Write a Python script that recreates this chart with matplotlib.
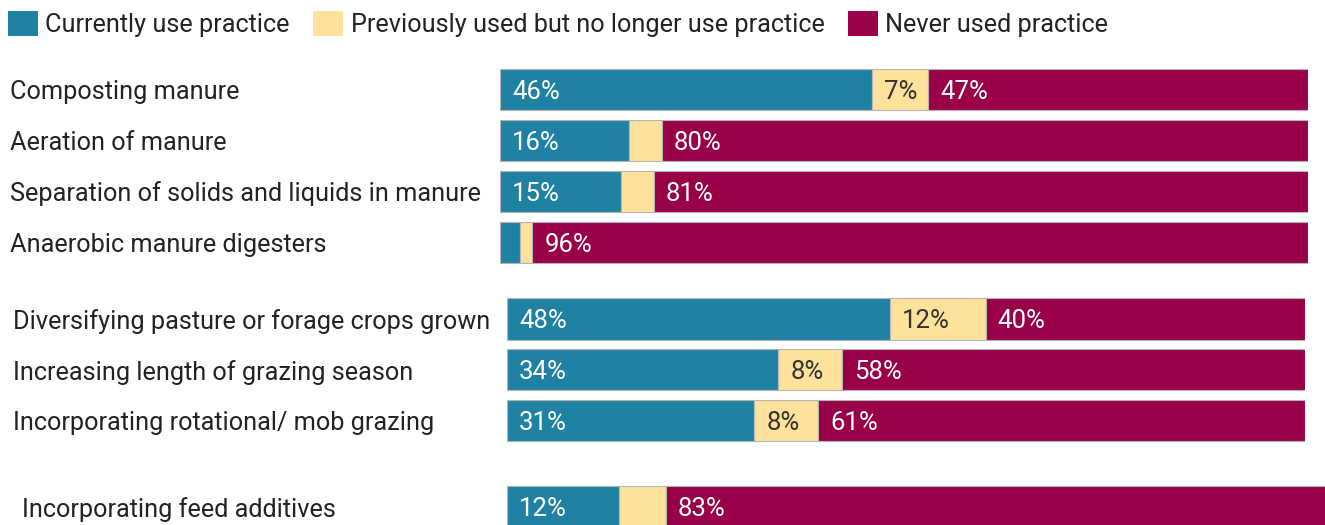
import matplotlib
matplotlib.use('Agg')
import matplotlib.pyplot as plt
import matplotlib.transforms as mtransforms
from matplotlib.patches import Patch

plt.rcParams['font.family'] = ['Roboto', 'DejaVu Sans']

# 三组数据：粪便管理、放牧管理、饲料添加剂
manure_labels = ['Composting manure', 'Aeration of manure',
                 'Separation of solids and liquids in manure', 'Anaerobic manure digesters']
manure_current = [46, 16, 15, 2.5]
manure_previous = [7, 4, 4, 1.5]
manure_never = [47, 80, 81, 96]

grazing_labels = ['Diversifying pasture or forage crops grown',
                  'Increasing length of grazing season',
                  'Incorporating rotational/ mob grazing']
grazing_current = [48, 34, 31]
grazing_previous = [12, 8, 8]
grazing_never = [40, 58, 61]

feed_labels = ['Incorporating feed additives']
feed_current = [12]
feed_previous = [5]
feed_never = [83]

series_names = ['Currently use practice', 'Previously used but no longer use practice',
                'Never used practice']
colors = ['#1f82a2', '#fee29b', '#990047']
text_colors = ['white', '#333333', 'white']

W, H = 1325, 525
fig = plt.figure(figsize=(W / 100, H / 100), dpi=100)


def add_group(left, top, right, slot, label_x, labels, current, previous, never):
    n = len(labels)
    # 像素坐标转换为figure比例
    ax = fig.add_axes([left / W, 1 - (top + slot * n) / H, (right - left) / W, slot * n / H])
    ax.set_xlim(0, 100)
    ax.set_ylim(n - 0.5, -0.5)
    ax.axis('off')
    y = list(range(n))
    starts = [0] * n
    for k, vals in enumerate([current, previous, never]):
        ax.barh(y, vals, left=starts, height=0.82, color=colors[k],
                edgecolor='#b5b5b5', linewidth=0.8)
        pad = mtransforms.offset_copy(ax.transData, fig=fig, x=12, y=0, units='dots')
        for i in range(n):
            if vals[i] >= 6:
                ax.text(starts[i], y[i], '%d%%' % round(vals[i]), transform=pad,
                        ha='left', va='center_baseline', fontsize=18.5, color=text_colors[k])
        starts = [s + v for s, v in zip(starts, vals)]
    # 左侧类别标签
    trans = mtransforms.blended_transform_factory(fig.transFigure, ax.transData)
    for i, lab in enumerate(labels):
        ax.text(label_x / W, y[i], lab, transform=trans, ha='left', va='center_baseline',
                fontsize=18.2, color='#222222', clip_on=False)
    return ax


add_group(500, 64, 1308, 51, 10, manure_labels, manure_current, manure_previous, manure_never)
add_group(507, 293.5, 1305, 50.75, 13, grazing_labels, grazing_current, grazing_previous, grazing_never)
add_group(507, 481.5, 1440, 51, 22, feed_labels, feed_current, feed_previous, feed_never)

handles = [Patch(facecolor=c, edgecolor='none') for c in colors]
fig.legend(handles, series_names, loc='upper left', bbox_to_anchor=(8 / W, 1 - 11 / H),
           ncol=3, frameon=False, fontsize=18.2, borderpad=0, borderaxespad=0,
           handlelength=1.2, handleheight=1.15, handletextpad=0.28, columnspacing=0.92,
           labelcolor='#222222')

fig.savefig('out.png', dpi=100)
